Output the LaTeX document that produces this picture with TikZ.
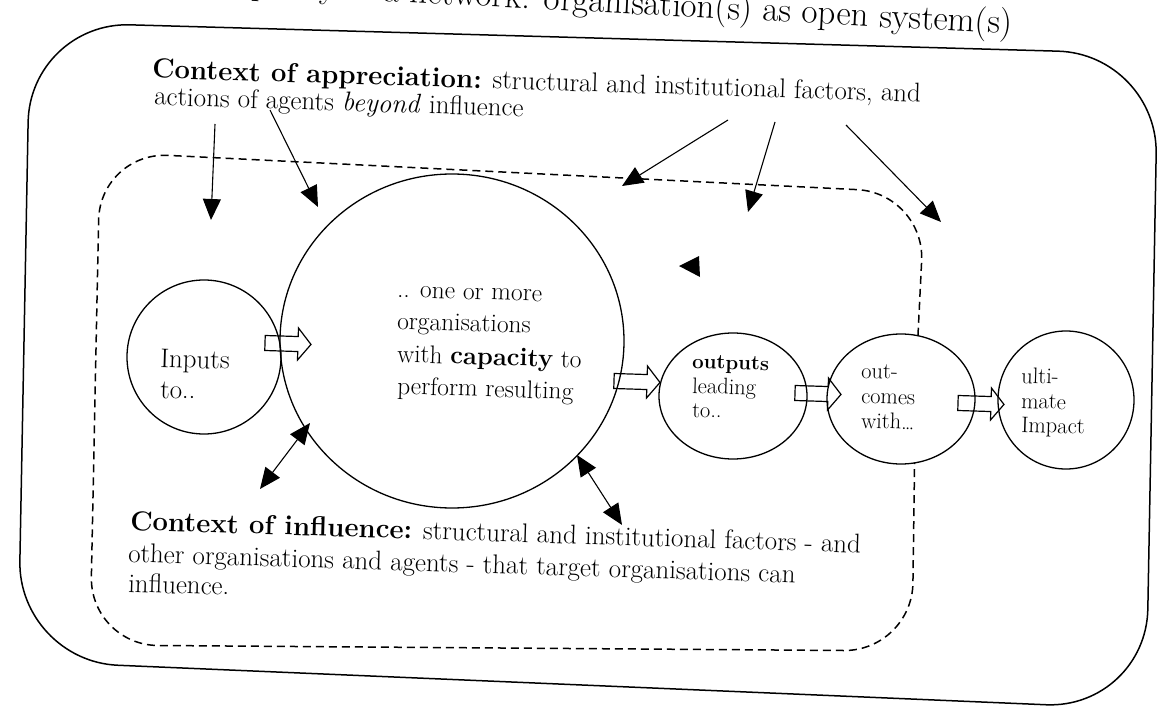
\documentclass[tikz,border=0pt]{standalone}
\usetikzlibrary{arrows.meta,shapes.geometric}
\begin{document}
\begin{tikzpicture}[x=1pt,y=-1pt,
  every node/.style={inner sep=0pt,outer sep=0pt},
  bubble/.style={draw,ellipse,line width=1.3pt},
  outerframe/.style={line width=1.5pt,rounded corners=100pt},
  innerframe/.style={line width=1.5pt,dash pattern=on 8pt off 5pt,rounded corners=68pt},
  ctxarrow/.style={line width=1.1pt,-{Triangle[length=21pt,width=18pt]}},
  ctxboth/.style={line width=1.1pt,{Triangle[length=21pt,width=18pt]}-{Triangle[length=21pt,width=18pt]}},
  txt/.style={anchor=base west,rotate=-1.8},
  bodytext/.style={txt,font=\fontsize{27}{30}\selectfont},
  orgtext/.style={txt,font=\fontsize{25.5}{30}\selectfont},
  intext/.style={txt,font=\fontsize{27}{30}\selectfont},
  smalltext/.style={txt,font=\fontsize{22.5}{26}\selectfont},
  blockarrow/.pic={\draw[line width=1.2pt,line join=miter]
    (0,-7.5) -- (33,-7.5) -- (33,-16) -- (46,0) -- (33,16) -- (33,7.5) -- (0,7.5) -- cycle;}
]
\useasboundingbox (0,0) rectangle (1160,706);
\newcommand{\headfont}{\fontsize{27.5}{30}\selectfont\bfseries}

% title, partly cut by the top edge
\node[anchor=base east,rotate=-3,font=\fontsize{35}{40}\selectfont] (title) at (1012,34)
  {Capacity of a network: organisation(s) as open system(s)};

% outer frame: context of appreciation
\draw[outerframe] (30,22) -- (1158,54) -- (1146,709) -- (18,661) -- cycle;

% the bubbles of the results chain
\node[bubble,minimum width=154pt,minimum height=154pt] (inp) at (204,357) {};
\node[bubble,minimum width=344pt,minimum height=334pt] (org) at (452,341) {};
\node[bubble,minimum width=148pt,minimum height=126pt] (outp) at (733,396) {};
\node[bubble,minimum width=148pt,minimum height=130pt] (outc) at (901,399) {};
\node[bubble,minimum width=136pt,minimum height=138pt] (ult) at (1066,400) {};

% inner dashed frame: context of influence
\draw[innerframe] (outc.75) -- (925,193) -- (100,152) -- (90,645) -- (912,651) -- (outc.-78);

% block arrows between the bubbles
\pic[rotate=-1.8] at (265,343) {blockarrow};
\pic[rotate=-1.8] at (614,381) {blockarrow};
\pic[rotate=-1.8] at (795,393) {blockarrow};
\pic[rotate=-1.8] at (958,403) {blockarrow};

% texts in the bubbles
\node[intext] (inp1) at (160,367) {Inputs};
\node[intext] (inp2) at (160,398) {to..};
\node[orgtext] (org1) at (397,297) {.. one or more};
\node[orgtext] (org2) at (397,329) {organisations};
\node[orgtext] (org3) at (397,362) {with \textbf{capacity} to};
\node[orgtext] (org4) at (397,394) {perform resulting};
\node[smalltext] (outp1) at (692,368) {\fontsize{20.5}{24}\selectfont\textbf{outputs}};
\node[smalltext] (outp2) at (692,393) {leading};
\node[smalltext] (outp3) at (692,417) {to..};
\node[smalltext] (outc1) at (861,378) {out-};
\node[smalltext] (outc2) at (861,403) {comes};
\node[smalltext] (outc3) at (861,428) {with\ldots};
\node[smalltext] (ult1) at (1021,383) {ulti-};
\node[smalltext] (ult2) at (1021,408) {mate};
\node[smalltext] (ult3) at (1021,432) {Impact};

% context texts
\node[bodytext] (app1) at (152,78) {{\headfont Context of appreciation:} structural and institutional factors, and};
\node[bodytext] (app2) at (154,105) {actions of agents \textit{beyond} influence};
\node[bodytext] (inf1) at (130,530) {{\headfont Context of influence:} structural and institutional factors - and};
\node[bodytext] (inf2) at (128,562) {other organisations and agents - that target organisations can};
\node[bodytext] (inf3) at (128,592) {influence.};

% arrows from the context of appreciation
\coordinate (s1) at (215,124);  \coordinate (e1) at (211,220);
\coordinate (s2) at (270,110);  \coordinate (e2) at (318,207);
\coordinate (s3) at (728,120);  \coordinate (e3) at (622,186);
\coordinate (s4) at (775,122);  \coordinate (e4) at (748,212);
\coordinate (s5) at (846,125);  \coordinate (e5) at (941,222);
\draw[ctxarrow] (s1) -- (e1);
\draw[ctxarrow] (s2) -- (e2);
\draw[ctxarrow] (s3) -- (e3);
\draw[ctxarrow] (s4) -- (e4);
\draw[ctxarrow] (s5) -- (e5);
\fill (679,266) -- (699,256) -- (700,277) -- cycle;

% two-way arrows with the context of influence
\coordinate (d1a) at (260,489);  \coordinate (d1b) at (310,423);
\coordinate (d2a) at (577,455);  \coordinate (d2b) at (622,525);
\draw[ctxboth] (d1a) -- (d1b);
\draw[ctxboth] (d2a) -- (d2b);
\end{tikzpicture}
\end{document}
